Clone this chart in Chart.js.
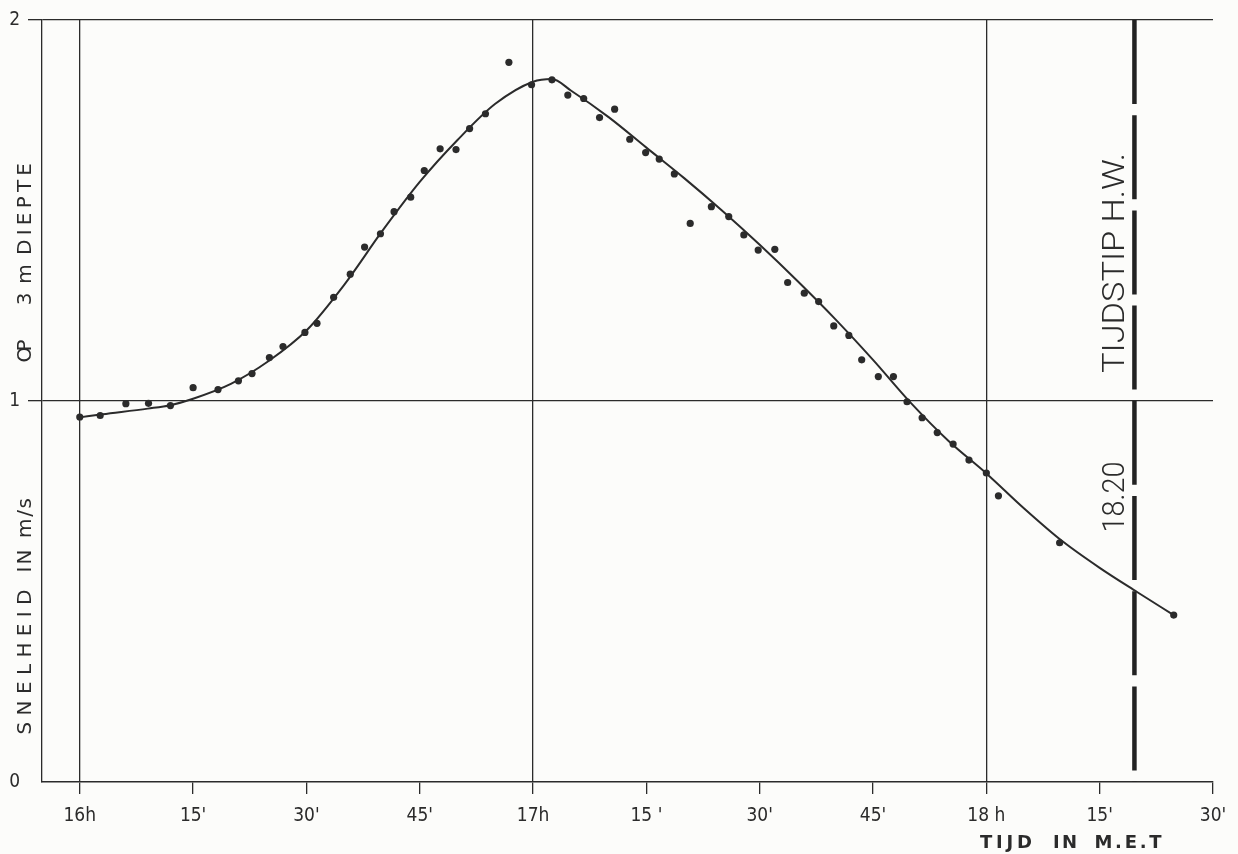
<!DOCTYPE html>
<html>
<head>
<meta charset="utf-8">
<script src="https://cdn.jsdelivr.net/npm/chart.js@4.4.1/dist/chart.umd.min.js"></script>
<style>
  html, body { margin: 0; background: #fcfcfa; }
  #wrap { width: 1238px; height: 854px; }
</style>
</head>
<body>
<div id="wrap"><canvas id="myChart"></canvas></div>
<script>
// minutes after 16h, speed in m/s
const minutes = [0, 2.7, 6.1, 9.1, 12.0, 15.0, 18.3, 21.0, 22.8, 25.1, 26.9, 29.8, 31.4, 33.6, 35.8,
  37.7, 39.8, 41.6, 43.8, 45.6, 47.7, 49.8, 51.6, 53.7, 56.8, 59.8, 62.5, 64.6, 66.7, 68.8,
  70.8, 72.8, 74.9, 76.7, 78.7, 80.8, 83.6, 85.9, 87.9, 89.8, 92.0, 93.7, 95.9, 97.8, 99.8,
  101.8, 103.5, 105.7, 107.7, 109.5, 111.5, 113.5, 115.6, 117.7, 120.0, 121.6, 129.7, 144.8];
const speeds = [0.958, 0.962, 0.993, 0.994, 0.988, 1.035, 1.030, 1.053, 1.072, 1.114, 1.143, 1.180, 1.204, 1.272, 1.333,
  1.404, 1.439, 1.497, 1.535, 1.605, 1.662, 1.660, 1.715, 1.754, 1.889, 1.830, 1.843, 1.803, 1.794, 1.744,
  1.766, 1.687, 1.652, 1.635, 1.596, 1.466, 1.510, 1.484, 1.436, 1.396, 1.398, 1.311, 1.283, 1.261, 1.197,
  1.172, 1.108, 1.064, 1.064, 0.998, 0.956, 0.917, 0.887, 0.845, 0.811, 0.751, 0.628, 0.438];

// fitted curve
const curveMinutes = [0, 3, 9, 12, 15, 20, 25, 30, 35, 40, 45, 50, 55, 60, 62.5, 65, 70, 75, 80, 85, 90,
  95, 100, 105, 110, 115, 120, 125, 130, 135, 140, 144.8];
const curveSpeeds = [0.957, 0.965, 0.980, 0.989, 1.006, 1.045, 1.105, 1.185, 1.305, 1.445, 1.575, 1.685, 1.780, 1.838, 1.845, 1.815, 1.745, 1.665, 1.585, 1.500, 1.410,
  1.315, 1.215, 1.108, 0.995, 0.895, 0.810, 0.718, 0.633, 0.562, 0.498, 0.438];

const xTicks = [0, 15, 30, 45, 60, 75, 90, 105, 120, 135, 150];
const xLabels = ["16h", "15'", "30'", "45'", "17h", "15 '", "30'", "45'", "18 h", "15'", "30'"];
const yTicks = [0, 1, 2];
const hwMinute = 139.6;
const hwLabel = "18.20";

const ink = "#2b2b2b";
const mainLines = [0, 60, 120];

// draw a word with its letters spread over a given length
function spaced(c, str, cx, cy, length, font, vertical) {
  c.save();
  c.translate(cx, cy);
  if (vertical) c.rotate(-Math.PI / 2);
  c.font = font;
  c.textAlign = "left";
  c.textBaseline = "middle";
  const ws = [...str].map((ch) => c.measureText(ch).width);
  const total = ws.reduce((a, b) => a + b, 0);
  const gap = str.length > 1 ? (length - total) / (str.length - 1) : 0;
  let pos = str.length > 1 ? -length / 2 : -total / 2;
  [...str].forEach((ch, i) => {
    c.fillText(ch, pos, 0);
    pos += ws[i] + gap;
  });
  c.restore();
}

// draw a string squeezed/stretched to a given length
function fitted(c, str, cx, cy, length, font, vertical) {
  c.save();
  c.translate(cx, cy);
  if (vertical) c.rotate(-Math.PI / 2);
  c.font = font;
  c.textAlign = "center";
  c.textBaseline = "middle";
  c.scale(length / c.measureText(str).width, 1);
  c.fillText(str, 0, 0);
  c.restore();
}

const textPlugin = {
  id: "texts",
  afterDraw(chart) {
    const c = chart.ctx;
    const x = chart.scales.x;
    c.save();
    c.fillStyle = ink;

    // y title, word by word (bottom to top)
    const yFont = "20px 'DejaVu Sans'";
    spaced(c, "SNELHEID", 26, 662, 145, yFont, true);
    spaced(c, "IN", 26, 561, 23, yFont, true);
    spaced(c, "m/s", 26, 518, 40, yFont, true);
    spaced(c, "OP", 26, 351, 23, yFont, true);
    spaced(c, "3", 26, 299, 13, yFont, true);
    spaced(c, "m", 26, 274, 15, yFont, true);
    spaced(c, "DIEPTE", 26, 209, 92, yFont, true);

    // high water labels
    const hx = x.getPixelForValue(hwMinute) - 18;
    fitted(c, "TIJDSTIP H.W.", hx, 263, 220, "300 32px Roboto, 'DejaVu Sans'", true);
    fitted(c, hwLabel, hx, 497, 71, "300 31px Roboto, 'DejaVu Sans'", true);

    // x title
    const tFont = "bold 18px 'DejaVu Sans'";
    spaced(c, "TIJD", 1006, 843, 52, tFont, false);
    spaced(c, "IN", 1065, 843, 24, tFont, false);
    spaced(c, "M.E.T", 1128, 843, 67, tFont, false);
    c.restore();
  }
};

const data = {
  datasets: [
    {
      label: "metingen",
      type: "scatter",
      data: minutes.map((m, i) => ({ x: m, y: speeds[i] })),
      backgroundColor: ink,
      borderColor: ink,
      pointRadius: 3.6,
      pointBorderWidth: 0,
    },
    {
      label: "kromme",
      type: "line",
      data: curveMinutes.map((m, i) => ({ x: m, y: curveSpeeds[i] })),
      borderColor: ink,
      borderWidth: 2,
      pointRadius: 0,
      cubicInterpolationMode: "monotone",
      fill: false,
    },
    {
      label: "H.W.",
      type: "line",
      data: [{ x: hwMinute, y: 2 }, { x: hwMinute, y: 0 }],
      borderColor: "#222",
      borderWidth: 4.5,
      borderDash: [84, 11.2],
      borderCapStyle: "butt",
      pointRadius: 0,
      fill: false,
    },
  ],
};

const config = {
  type: "scatter",
  data: data,
  plugins: [textPlugin],
  options: {
    responsive: true,
    maintainAspectRatio: false,
    animation: false,
    layout: { padding: { top: 20, right: 25, left: 0, bottom: 0 } },
    plugins: {
      legend: { display: false },
      tooltip: { enabled: false },
    },
    scales: {
      x: {
        type: "linear",
        min: -5,
        max: 150,
        afterBuildTicks: (s) => { s.ticks = xTicks.map((v) => ({ value: v })); },
        afterFit: (s) => { s.height = 72; },
        ticks: {
          autoSkip: false,
          maxRotation: 0,
          padding: 11,
          color: ink,
          font: { family: "'DejaVu Sans Condensed', 'Liberation Sans Narrow', 'DejaVu Sans'", size: 19 },
          callback: (v) => xLabels[xTicks.indexOf(v)],
        },
        grid: {
          color: (ctx) => (ctx.tick && mainLines.includes(ctx.tick.value) ? ink : "transparent"),
          lineWidth: 1.3,
          tickColor: ink,
          tickLength: 12,
        },
        border: { color: ink, width: 1.6 },
      },
      y: {
        min: 0,
        max: 2,
        afterBuildTicks: (s) => { s.ticks = yTicks.map((v) => ({ value: v })); },
        afterFit: (s) => { s.width = 42; },
        ticks: {
          padding: 8,
          color: ink,
          font: { family: "'DejaVu Sans Condensed', 'DejaVu Sans'", size: 19 },
        },
        grid: {
          color: (ctx) => (ctx.tick && ctx.tick.value > 0 ? ink : "transparent"),
          lineWidth: 1.3,
          tickColor: (ctx) => (ctx.tick && ctx.tick.value > 0 ? ink : "transparent"),
          tickLength: 14,
        },
        border: { color: ink, width: 1.3 },
      },
    },
  },
};

new Chart(document.getElementById("myChart"), config);
</script>
</body>
</html>
